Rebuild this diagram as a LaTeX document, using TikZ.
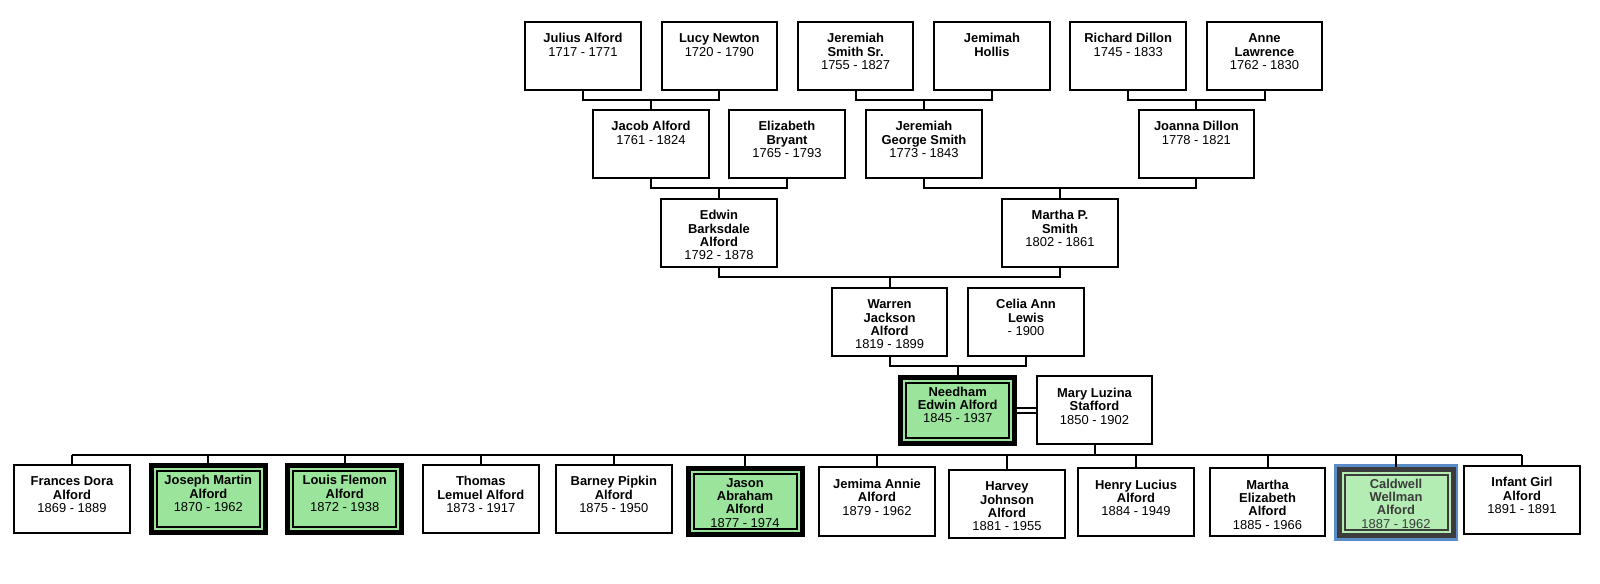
\documentclass[tikz,border=0pt]{standalone}
\usepackage{fontspec}
\setmainfont{Liberation Sans}
\usetikzlibrary{calc}
\definecolor{hlgreen}{HTML}{9BE49B}
\definecolor{selgreen}{HTML}{B3EDB3}
\definecolor{seldark}{HTML}{3C3C3C}
\definecolor{selblue}{HTML}{5A8CC8}
\newcommand\pfont{\fontsize{9.7}{10}\selectfont}
\tikzset{
  pbox/.style={draw, line width=1.5pt, fill=white, minimum width=86.6pt, minimum height=51pt, inner sep=0pt},
  hlbox/.style={draw, line width=3.75pt, fill=hlgreen, minimum width=85.5pt, minimum height=49.5pt, inner sep=0pt},
  selbox/.style={draw=seldark, line width=3.75pt, fill=selgreen, minimum width=85.5pt, minimum height=49.5pt, inner sep=0pt},
  ptext/.style={anchor=base, inner sep=0pt},
  conn/.style={line width=1.5pt},
}
\newcommand\pers[4]{%
  \node[pbox] (#1) at (#2,#3) {};
  \node[ptext] (#1-t) at ([yshift=9.75pt]#1.center) {\parbox[t]{84pt}{\pfont\centering #4}};
}
\newcommand\hpers[5][black]{%
  \node[#1] (#2) at (#3,#4) {};
  \draw[line width=1.5pt] ([xshift=6pt,yshift=-6pt]#2.north west) rectangle ([xshift=-6pt,yshift=6pt]#2.south east);
  \node[ptext] (#2-t) at ([yshift=10.75pt]#2.center) {\parbox[t]{84pt}{\pfont\centering #5}};
}
\begin{document}
\begin{tikzpicture}[x=0.75pt,y=-0.75pt]
\useasboundingbox (0,0) rectangle (1600,584);
% row 1
\pers{julius}{583}{56}{\textbf{Julius Alford}\\1717 - 1771}
\pers{lucy}{719.3}{56}{\textbf{Lucy Newton}\\1720 - 1790}
\pers{jsr}{855.6}{56}{\textbf{Jeremiah\\Smith Sr.}\\1755 - 1827}
\pers{jemimah}{991.9}{56}{\textbf{Jemimah\\Hollis}}
\pers{richard}{1128.2}{56}{\textbf{Richard Dillon}\\1745 - 1833}
\pers{anne}{1264.5}{56}{\textbf{Anne\\Lawrence}\\1762 - 1830}
% row 2
\pers{jacob}{651}{144}{\textbf{Jacob Alford}\\1761 - 1824}
\pers{elizabeth}{787}{144}{\textbf{Elizabeth\\Bryant}\\1765 - 1793}
\pers{jgs}{924}{144}{\textbf{Jeremiah\\George Smith}\\1773 - 1843}
\pers{joanna}{1196.4}{144}{\textbf{Joanna Dillon}\\1778 - 1821}
% row 3
\pers{edwin}{719}{233}{\textbf{Edwin\\Barksdale\\Alford}\\1792 - 1878}
\pers{marthap}{1060}{233}{\textbf{Martha P.\\Smith}\\1802 - 1861}
% row 4
\pers{warren}{889.6}{322}{\textbf{Warren\\Jackson\\Alford}\\1819 - 1899}
\pers{celia}{1026}{322}{\textbf{Celia Ann\\Lewis}\\- 1900}
% row 5
\hpers[hlbox]{needham}{957.7}{410.5}{\textbf{Needham\\Edwin Alford}\\1845 - 1937}
\pers{mary}{1094.5}{410.5}{\textbf{Mary Luzina\\Stafford}\\1850 - 1902}
% children
\pers{frances}{72}{499}{\textbf{Frances Dora\\Alford}\\1869 - 1889}
\hpers[hlbox]{joseph}{208.3}{499}{\textbf{Joseph Martin\\Alford}\\1870 - 1962}
\hpers[hlbox]{louis}{344.7}{499}{\textbf{Louis Flemon\\Alford}\\1872 - 1938}
\pers{thomas}{480.8}{499}{\textbf{Thomas\\Lemuel Alford}\\1873 - 1917}
\pers{barney}{613.8}{499}{\textbf{Barney Pipkin\\Alford}\\1875 - 1950}
\hpers[hlbox]{jason}{745}{501.5}{\textbf{Jason\\Abraham\\Alford}\\1877 - 1974}
\pers{jemima}{877}{501.5}{\textbf{Jemima Annie\\Alford}\\1879 - 1962}
\pers{harvey}{1007}{504}{\textbf{Harvey\\Johnson\\Alford}\\1881 - 1955}
\pers{henry}{1136}{502}{\textbf{Henry Lucius\\Alford}\\1884 - 1949}
\pers{marthae}{1267.5}{502}{\textbf{Martha\\Elizabeth\\Alford}\\1885 - 1966}
\node[selbox] (caldwell) at (1396,502.5) {};
\draw[seldark, line width=1.5pt] ([xshift=6pt,yshift=-6pt]caldwell.north west) rectangle ([xshift=-6pt,yshift=6pt]caldwell.south east);
\draw[selblue, line width=2pt] ([xshift=-1pt,yshift=1pt]caldwell.north west) rectangle ([xshift=1pt,yshift=-1pt]caldwell.south east);
\node[ptext, text=seldark] (caldwell-t) at ([yshift=10.75pt]caldwell.center) {\parbox[t]{84pt}{\pfont\centering \textbf{Caldwell\\Wellman\\Alford}\\1887 - 1962}};
\pers{infant}{1522}{500}{\textbf{Infant Girl\\Alford}\\1891 - 1891}
% bar levels
\coordinate (b1) at (0,100);
\coordinate (b2) at (0,188.5);
\coordinate (b3) at (0,277.5);
\coordinate (b4) at (0,366);
\coordinate (bc) at (0,455.5);
% connectors
\draw[conn] (julius.south) -- (julius.south |- b1) -- (lucy.south |- b1) -- (lucy.south);
\draw[conn] (jacob.north) -- (jacob.north |- b1);
\draw[conn] (jsr.south) -- (jsr.south |- b1) -- (jemimah.south |- b1) -- (jemimah.south);
\draw[conn] (jgs.north) -- (jgs.north |- b1);
\draw[conn] (richard.south) -- (richard.south |- b1) -- (anne.south |- b1) -- (anne.south);
\draw[conn] (joanna.north) -- (joanna.north |- b1);
\draw[conn] (jacob.south) -- (jacob.south |- b2) -- (elizabeth.south |- b2) -- (elizabeth.south);
\draw[conn] (edwin.north) -- (edwin.north |- b2);
\draw[conn] (jgs.south) -- (jgs.south |- b2) -- (joanna.south |- b2) -- (joanna.south);
\draw[conn] (marthap.north) -- (marthap.north |- b2);
\draw[conn] (edwin.south) -- (edwin.south |- b3) -- (marthap.south |- b3) -- (marthap.south);
\draw[conn] (warren.north) -- (warren.north |- b3);
\draw[conn] (warren.south) -- (warren.south |- b4) -- (celia.south |- b4) -- (celia.south);
\draw[conn] (needham.north) -- (needham.north |- b4);
\draw[line width=1.3pt, double, double distance=2pt] (needham.east) -- (mary.west);
\draw[conn] (mary.south) -- (mary.south |- bc);
\draw[conn] (frances.north |- bc) -- (infant.north |- bc);
\foreach \c in {frances,joseph,louis,thomas,barney,jason,jemima,harvey,henry,marthae,caldwell,infant}
  \draw[conn] (\c.north |- bc) -- (\c.north);
\end{tikzpicture}
\end{document}
